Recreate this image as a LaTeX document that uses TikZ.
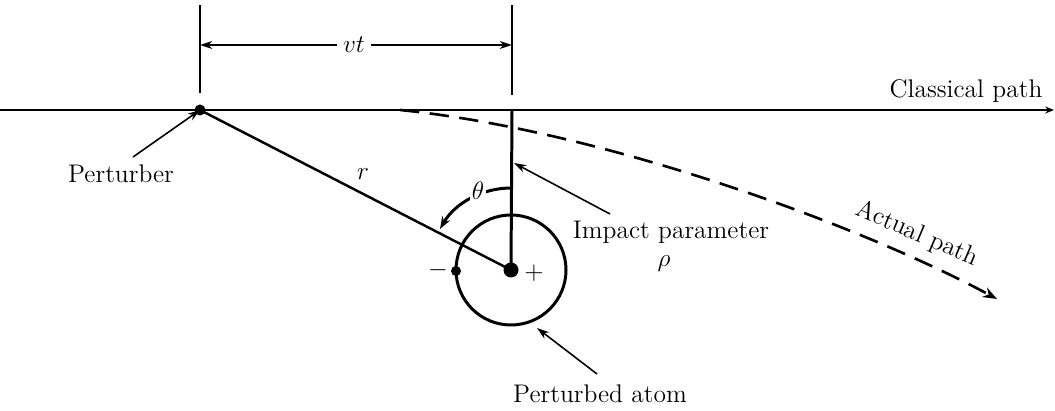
\documentclass[tikz,border=0pt]{standalone}
\usepackage{tikz}
\usetikzlibrary{arrows.meta,positioning,calc}

\begin{document}
\begin{tikzpicture}[x=0.02cm,y=-0.02cm,
  lbl/.style={font=\fontsize{14.5}{17}\selectfont},
  ptr/.style={-{Stealth[length=7pt,width=4.5pt]},line width=0.9pt},
  bold/.style={line width=1.7pt}]
  \useasboundingbox (0,0) rectangle (1055,411);
  \coordinate (pert) at (200,110);
  \coordinate (nuc) at (511,270);
  \coordinate (elec) at (456,271);
  \coordinate (clstart) at (0,110);
  \coordinate (clend) at (1054,110);
  \coordinate (imptop) at (512,110);
  \coordinate (thtop) at (511,188);

  \draw[bold,-{Stealth[length=5pt,width=4pt]}] (clstart) -- (clend);
  \node[lbl] (classical) at (966,91) {Classical path};

  \draw[bold] (200,5) -- (200,93);
  \draw[bold] (512,5) -- (512,95);
  \node[lbl] (vt) at (354,45) {$vt$};
  \draw[ptr] (vt) -- (200,45);
  \draw[ptr] (vt) -- (512,45);

  \draw[line width=1.4pt] (pert) -- (nuc);
  \draw[bold] (imptop) -- (nuc);
  \draw[bold] (nuc) circle[radius=55];
  \fill (pert) circle[radius=5.5];
  \fill (nuc) circle[radius=7.5];
  \fill (elec) circle[radius=5];
  \node[lbl] (minus) at (438,270) {$-$};
  \node[lbl] (plus) at (534,273) {$+$};
  \node[lbl] (r) at (363,174) {$r$};

  \draw[bold,-{Stealth[length=7pt,width=5pt]}] (thtop) arc[start angle=90,end angle=150,radius=1.64cm];
  \node[lbl,fill=white,inner sep=1pt] (theta) at (478,191) {$\theta$};

  \draw[line width=1.5pt,dashed,dash pattern=on 11pt off 6pt,-{Stealth[length=8pt,width=6pt]}]
    (400,110) .. controls (600,130) and (860,225) .. (997,299);
  \node[lbl,rotate=-23] (actual) at (917,234) {Actual path};

  \node[lbl] (pertlbl) at (121,174) {Perturber};
  \draw[ptr] (133,157) -- (pert);
  \node[lbl] (imp) at (671,232) {Impact parameter};
  \node[lbl] (rho) at (664,264) {$\rho$};
  \draw[ptr] (610,214) -- (514,163);
  \node[lbl] (atomlbl) at (600,394) {Perturbed atom};
  \draw[ptr] (597,374) -- (537,328);
\end{tikzpicture}
\end{document}
